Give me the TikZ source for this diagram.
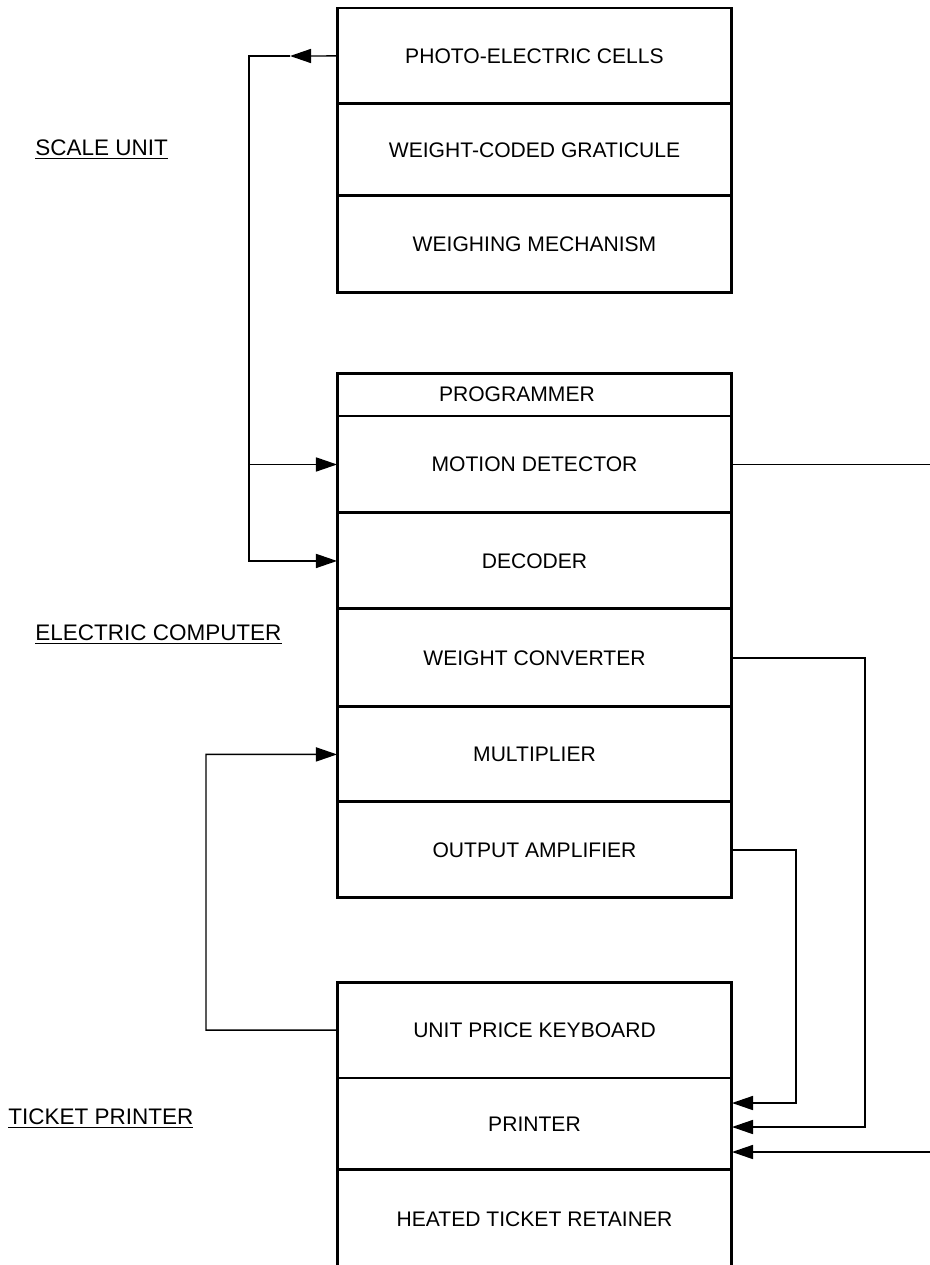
\documentclass[tikz,border=0pt]{standalone}
\usepackage{fontspec}
\setmainfont{Liberation Sans}
\usetikzlibrary{arrows.meta,positioning}

\tikzset{
  unitrow/.style={draw, line width=1.7pt, minimum width=7.9cm, inner sep=0pt,
    outer sep=0pt, font=\fontsize{12}{14}\selectfont},
  unitname/.style={anchor=west, inner sep=0pt, font=\fontsize{12.8}{15}\selectfont},
  wire/.style={line width=0.85pt},
  feed/.style={wire, -{Triangle[length=12pt, width=8pt]}},
}

\begin{document}
\begin{tikzpicture}[x=0.02cm, y=-0.02cm]
\useasboundingbox (0,0) rectangle (930,1265);

% Scale unit
\node[unitrow, minimum height=1.92cm, anchor=north] (cells) at (534.5,8) {PHOTO-ELECTRIC CELLS};
\node[unitrow, minimum height=1.84cm, below=0pt of cells] (graticule) {WEIGHT-CODED GRATICULE};
\node[unitrow, minimum height=1.94cm, below=0pt of graticule] (mechanism) {WEIGHING MECHANISM};

% Electric computer
\node[unitrow, minimum height=0.86cm, anchor=north] (programmer) at (534.5,373) {\hspace*{-20pt}PROGRAMMER};
\node[unitrow, minimum height=1.94cm, below=0pt of programmer] (motion) {MOTION DETECTOR};
\node[unitrow, minimum height=1.92cm, below=0pt of motion] (decoder) {DECODER};
\node[unitrow, minimum height=1.96cm, below=0pt of decoder] (converter) {WEIGHT CONVERTER};
\node[unitrow, minimum height=1.90cm, below=0pt of converter] (multiplier) {MULTIPLIER};
\node[unitrow, minimum height=1.92cm, below=0pt of multiplier] (amplifier) {OUTPUT AMPLIFIER};

% Ticket printer
\node[unitrow, minimum height=1.92cm, anchor=north] (keyboard) at (534.5,982) {UNIT PRICE KEYBOARD};
\node[unitrow, minimum height=1.84cm, below=0pt of keyboard] (printer) {PRINTER};
\node[unitrow, minimum height=1.96cm, below=0pt of printer] (retainer) {HEATED TICKET RETAINER};

% Unit names
\node[unitname] (scaleName) at (35,150) {\underline{SCALE UNIT}};
\node[unitname] (computerName) at (35,635) {\underline{ELECTRIC COMPUTER}};
\node[unitname] (printerName) at (8,1119) {\underline{TICKET PRINTER}};

% Photo-cell signals
\coordinate (cellsTip) at (290,56);
\coordinate (cellsBus) at (249,56);
\draw[feed] (cells.west) -- (cellsTip);
\draw[feed] (cellsTip) -- (cellsBus) |- (decoder.west);
\draw[feed] (cellsBus |- motion.west) -- (motion.west);

% Outputs to the printer
\coordinate (motionOut) at (930,463);
\draw[wire] (motion.east) -- (motionOut |- motion.east);
\coordinate (converterDrop) at (865,1127);
\draw[feed] (converter.east) -| (converterDrop) -- (converterDrop -| printer.east);
\coordinate (amplifierDrop) at (796,1103);
\draw[feed] (amplifier.east) -| (amplifierDrop) -- (amplifierDrop -| printer.east);
\coordinate (printerIn) at (930,1152);
\draw[feed] (printerIn) -- (printerIn -| printer.east);

% Unit price back to the multiplier
\coordinate (keyboardRise) at (206,1030);
\draw[feed] (keyboard.west) -- (keyboardRise) |- (multiplier.west);

\end{tikzpicture}
\end{document}
